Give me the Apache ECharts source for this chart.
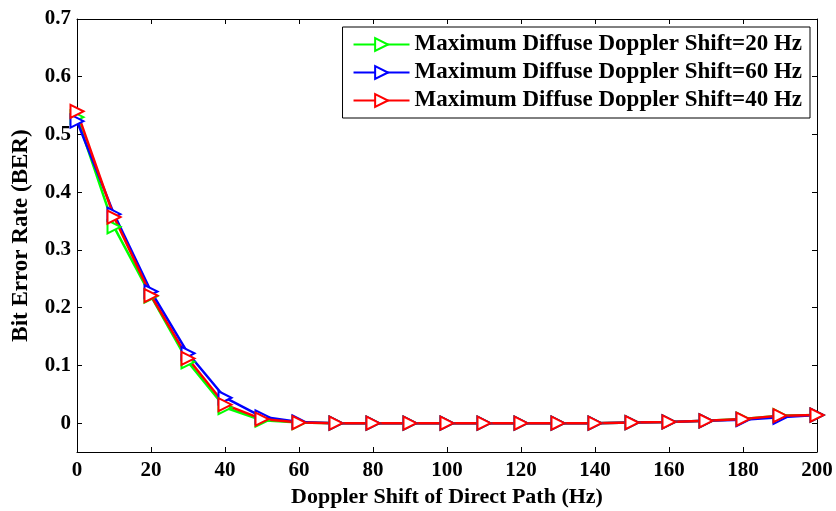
<!DOCTYPE html>
<html><head><meta charset="utf-8">
<script src="https://cdn.jsdelivr.net/npm/echarts@6/dist/echarts.min.js"></script>
<style>html,body{margin:0;padding:0;background:#fff}#c{width:836px;height:511px}</style>
</head><body><div id="c"></div>
<script>
const xValues = [0,10,20,30,40,50,60,70,80,90,100,110,120,130,140,150,160,170,180,190,200];
const ber20 = [0.530,0.340,0.220,0.106,0.027,0.005,0.001,0,0,0,0,0,0,0,0,0.001,0.002,0.004,0.007,0.013,0.014];
const ber60 = [0.523,0.362,0.228,0.121,0.044,0.011,0.002,0,0,0,0,0,0,0,0,0.001,0.002,0.004,0.006,0.010,0.014];
const ber40 = [0.540,0.357,0.221,0.112,0.032,0.007,0.001,0,0,0,0,0,0,0,0,0.001,0.002,0.004,0.007,0.013,0.014];
const seriesNames = ['Maximum Diffuse Doppler Shift=20 Hz','Maximum Diffuse Doppler Shift=60 Hz','Maximum Diffuse Doppler Shift=40 Hz'];
const seriesColors = ['#00ff00','#0000ff','#ff0000'];
const seriesData = [ber20, ber60, ber40];
const xTicks = [0,20,40,60,80,100,120,140,160,180,200];
const yTicks = [0,0.1,0.2,0.3,0.4,0.5,0.6,0.7];
const xTitle = 'Doppler Shift of Direct Path (Hz)';
const yTitle = 'Bit Error Rate (BER)';

const font = 'Liberation Serif, Times New Roman, serif';
const chart = echarts.init(document.getElementById('c'), null, {renderer:'canvas'});
const lbl = {fontFamily:font, fontWeight:'bold', fontSize:21, color:'#000'};
const axLine = {show:true, onZero:false, lineStyle:{color:'#000', width:1}};
chart.setOption({
  animation:false,
  backgroundColor:'#fff',
  grid:{left:77, right:19, top:19, bottom:59, containLabel:false, outerBoundsMode:'none'},
  legend:{
    right:26, top:27, orient:'vertical', itemGap:5,
    itemWidth:56, itemHeight:16,
    backgroundColor:'#fff', borderColor:'#000', borderWidth:1,
    padding:[6,8,6,10],
    textStyle:{fontFamily:font, fontWeight:'bold', fontSize:23, color:'#000', lineHeight:23},
    data: seriesNames
  },
  xAxis:[{
    type:'value', min:0, max:200,
    name:xTitle, nameLocation:'middle', nameGap:34,
    nameTextStyle:{fontFamily:font, fontWeight:'bold', fontSize:22, color:'#000'},
    axisLine:axLine,
    axisTick:{show:true, inside:true, length:5, customValues:xTicks, lineStyle:{color:'#000'}},
    axisLabel:Object.assign({margin:8, customValues:xTicks}, lbl),
    splitLine:{show:false}
  },{
    type:'value', min:0, max:200, position:'top',
    axisLine:axLine,
    axisTick:{show:true, inside:true, length:5, customValues:xTicks, lineStyle:{color:'#000'}},
    axisLabel:{show:false}, splitLine:{show:false}
  }],
  yAxis:[{
    type:'value', min:-0.05, max:0.7,
    name:yTitle, nameLocation:'middle', nameGap:44,
    nameTextStyle:{fontFamily:font, fontWeight:'bold', fontSize:23, color:'#000'},
    axisLine:axLine,
    axisTick:{show:true, inside:true, length:5, customValues:yTicks, lineStyle:{color:'#000'}},
    axisLabel:Object.assign({margin:6, customValues:yTicks, formatter:v=>String(Math.round(v*10)/10)}, lbl),
    splitLine:{show:false}
  },{
    type:'value', min:-0.05, max:0.7, position:'right',
    axisLine:axLine,
    axisTick:{show:true, inside:true, length:5, customValues:yTicks, lineStyle:{color:'#000'}},
    axisLabel:{show:false}, splitLine:{show:false}
  }],
  series: seriesData.map((d,i)=>({
    name:seriesNames[i], type:'line',
    data:xValues.map((x,j)=>[x,d[j]]),
    symbol:'triangle', symbolRotate:-90, symbolSize:13,
    showAllSymbol:true,
    lineStyle:{color:seriesColors[i], width:2.5},
    itemStyle:{color:'#fff', borderColor:seriesColors[i], borderWidth:2},
    emphasis:{disabled:true}
  }))
});
</script></body></html>
